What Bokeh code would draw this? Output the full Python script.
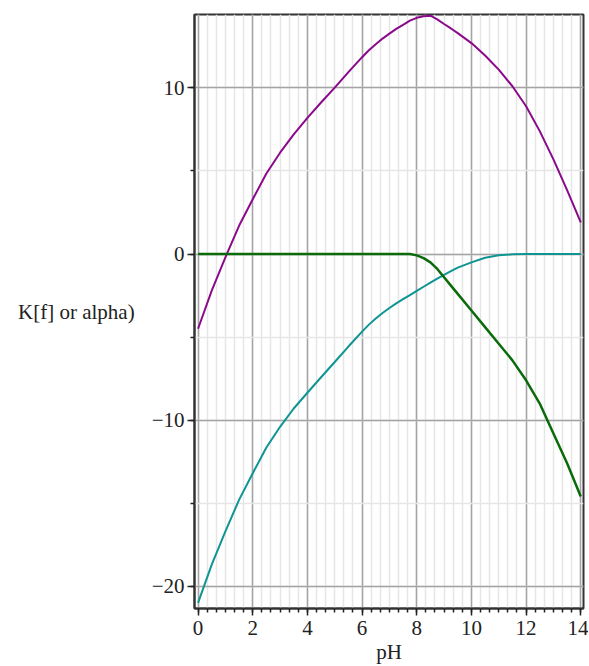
from bokeh.plotting import figure
from bokeh.models import SingleIntervalTicker, Range1d
from bokeh.embed import file_html
from bokeh.resources import INLINE

pH = [0, 0.5, 1, 1.5, 2, 2.5, 3, 3.5, 4, 4.5, 5, 5.5, 6, 6.25, 6.5, 6.75, 7,
      7.25, 7.5, 7.75, 8, 8.25, 8.5, 8.75, 9, 9.25, 9.5, 10, 10.5, 11, 11.5,
      12, 12.5, 13, 13.5, 14]

log_Kf_cond = [-4.5, -2.2, -0.2, 1.7, 3.3, 4.85, 6.1, 7.2, 8.2, 9.12, 10.02,
               10.95, 11.85, 12.27, 12.63, 12.97, 13.27, 13.55, 13.8, 14.05,
               14.22, 14.32, 14.35, 14.13, 13.85, 13.58, 13.3, 12.7, 11.95,
               11.1, 10.1, 8.9, 7.4, 5.7, 3.85, 1.9]

log_alpha_Y = [-21.0, -18.7, -16.7, -14.8, -13.2, -11.65, -10.4, -9.3, -8.35,
               -7.42, -6.5, -5.57, -4.67, -4.25, -3.88, -3.55, -3.25, -2.97,
               -2.72, -2.47, -2.22, -1.97, -1.72, -1.48, -1.25, -1.03, -0.82,
               -0.5, -0.22, -0.08, -0.02, 0, 0, 0, 0, 0]

log_alpha_M = [0, 0, 0, 0, 0, 0, 0, 0, 0, 0, 0, 0, 0, 0, 0, 0, 0, 0, 0, 0,
               -0.08, -0.25, -0.5, -0.9, -1.4, -1.9, -2.4, -3.4, -4.4, -5.4,
               -6.4, -7.6, -9.0, -10.8, -12.6, -14.6]

FONT = "Liberation Serif"

p = figure(width=588, height=666, output_backend="svg", toolbar_location=None,
           x_range=Range1d(-0.13, 14.1), y_range=Range1d(-21.34, 14.42),
           min_border_left=194, min_border_right=5, min_border_top=14,
           min_border_bottom=56)

p.xaxis.ticker = SingleIntervalTicker(interval=2, num_minor_ticks=6)
p.yaxis.ticker = SingleIntervalTicker(interval=10, num_minor_ticks=2)

for g in (p.xgrid, p.ygrid):
    g.grid_line_color = "#a4a4a4"
    g.grid_line_width = 1.5
    g.minor_grid_line_color = "#e6e6e6"
    g.minor_grid_line_width = 1.5

p.outline_line_color = "#333333"
p.outline_line_width = 2

for ax in (p.xaxis, p.yaxis):
    ax.axis_line_color = "#333333"
    ax.axis_line_width = 2
    ax.major_tick_line_color = "#222222"
    ax.major_tick_line_width = 1.5
    ax.minor_tick_line_color = "#222222"
    ax.minor_tick_line_width = 1.5
    ax.major_tick_in = 0
    ax.major_tick_out = 7
    ax.minor_tick_in = 0
    ax.minor_tick_out = 4
    ax.major_label_text_font = FONT
    ax.major_label_text_font_size = "21px"
    ax.major_label_text_color = "#222222"
    ax.axis_label_text_font = FONT
    ax.axis_label_text_font_size = "21px"
    ax.axis_label_text_font_style = "normal"
    ax.axis_label_text_color = "#222222"

p.xaxis.axis_label = "pH"
p.xaxis.major_label_standoff = 5
p.xaxis.axis_label_standoff = 2
p.yaxis.axis_label = "K[f] or alpha)"
p.yaxis.axis_label_orientation = "horizontal"
p.yaxis.major_label_standoff = 3
p.yaxis.axis_label_standoff = 14

p.line(pH, log_Kf_cond, line_color="#8b0a8b", line_width=2)
p.line(pH, log_alpha_Y, line_color="#0f9494", line_width=2)
p.line(pH, log_alpha_M, line_color="#0b6b0b", line_width=2.5)

open("out.html", "w").write(file_html(p, INLINE))
